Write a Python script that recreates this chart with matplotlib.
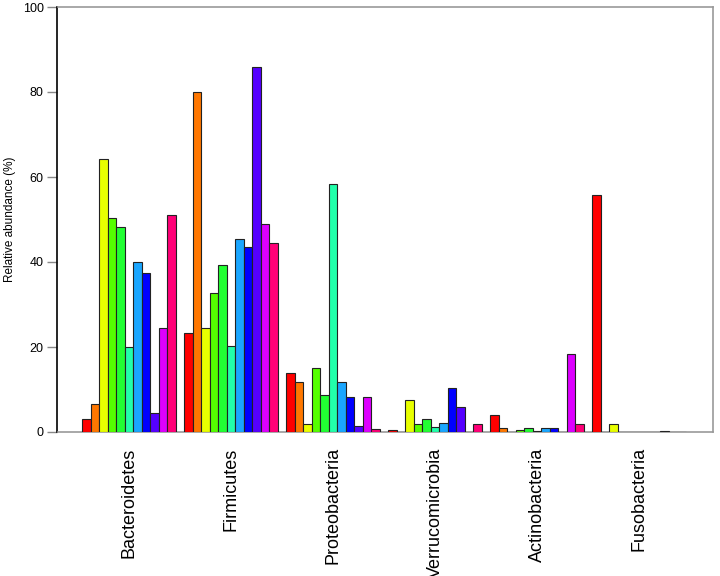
import matplotlib
matplotlib.use("Agg")
import matplotlib.pyplot as plt
import numpy as np

phyla = ["Bacteroidetes", "Firmicutes", "Proteobacteria",
         "Verrucomicrobia", "Actinobacteria", "Fusobacteria"]

# one row per sample (11 samples), one column per phylum
s1 = [3.0, 23.2, 14.0, 0.4, 4.0, 55.8]
s2 = [6.5, 80.0, 11.8, 0.1, 0.9, 0.0]
s3 = [64.3, 24.5, 1.8, 7.5, 0.0, 1.8]
s4 = [50.4, 32.6, 15.0, 2.0, 0.4, 0.1]
s5 = [48.3, 39.3, 8.7, 3.1, 1.0, 0.1]
s6 = [20.1, 20.3, 58.3, 1.2, 0.3, 0.1]
s7 = [40.0, 45.3, 11.8, 2.2, 1.0, 0.1]
s8 = [37.3, 43.5, 8.3, 10.3, 1.0, 0.1]
s9 = [4.4, 86.0, 1.3, 5.8, 0.1, 0.2]
s10 = [24.5, 48.9, 8.3, 0.0, 18.4, 0.1]
s11 = [51.1, 44.5, 0.7, 1.8, 1.8, 0.1]
samples = [s1, s2, s3, s4, s5, s6, s7, s8, s9, s10, s11]

colors = ["#ff0000", "#ff7700", "#e8ff00", "#55ff00", "#22ff33", "#22ffaa",
          "#1aa6ff", "#0000ff", "#5500ff", "#dd00ff", "#ff0077"]

fig = plt.figure(figsize=(7.2, 5.76), dpi=100)
ax = fig.add_axes([57.5 / 720, 1 - 432 / 576, (713 - 57.5) / 720, (432 - 7) / 576])

group_pos = np.arange(len(phyla)) * 12
for j, vals in enumerate(samples):
    ax.bar(group_pos + j, vals, width=1.0, align="edge", color=colors[j],
           edgecolor="#222222", linewidth=0.8, zorder=3)

ax.set_xlim(-2.9, 74.2)
ax.set_ylim(0, 100)
ax.set_yticks([0, 20, 40, 60, 80, 100])
ax.tick_params(axis="y", direction="out", length=7, width=1, color="#888888",
               labelsize=9, pad=3)
ax.set_xticks(group_pos + 5.5)
ax.set_xticklabels(phyla, rotation=90, fontsize=13, family="Liberation Sans", va="top")
ax.tick_params(axis="x", length=0, pad=11)
for lab in ax.get_yticklabels():
    lab.set_family("Liberation Sans")

ax.spines["left"].set_color("black")
for side in ("top", "right", "bottom"):
    ax.spines[side].set_color("#999999")
for sp in ax.spines.values():
    sp.set_linewidth(1.2)

ax.set_ylabel("Relative abundance (%)", fontsize=8.5, family="Liberation Sans")
ax.yaxis.set_label_coords(-0.064, 0.5)

fig.savefig("out.png", dpi=100)
